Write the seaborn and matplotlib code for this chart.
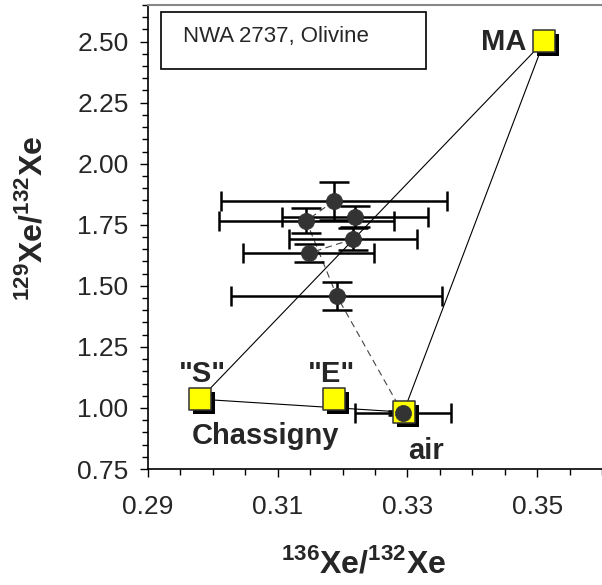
import numpy as np
import pandas as pd
import seaborn as sns
import matplotlib
matplotlib.use('Agg')
import matplotlib.pyplot as plt
import matplotlib.transforms as mtransforms
from matplotlib.patches import Rectangle
from matplotlib.ticker import FixedLocator, MultipleLocator, FormatStrFormatter

# measured olivine steps (136Xe/132Xe, 129Xe/132Xe)
pt_x = [0.3187, 0.3144, 0.3219, 0.3216, 0.3148, 0.3191, 0.3293]
pt_y = [1.848, 1.766, 1.782, 1.691, 1.634, 1.459, 0.978]
pt_xerr = [0.0174, 0.0135, 0.0112, 0.0099, 0.0101, 0.0163, 0.0074]
pt_yerr = [0.078, 0.051, 0.043, 0.045, 0.037, 0.057, 0.008]

# end-members
em_names = ['"S"', '"E"', 'air', 'MA']
em_x = [0.298, 0.3187, 0.3294, 0.3511]
em_y = [1.036, 1.036, 0.983, 2.503]

# mixing triangle and dashed step paths
tri = ['"S"', 'MA', 'air', '"S"']
dash_paths = [[0, 1, 5, 6], [2, 3, 4]]

xticks = [0.29, 0.31, 0.33, 0.35]
yticks = [0.75, 1.00, 1.25, 1.50, 1.75, 2.00, 2.25, 2.50]

pts = pd.DataFrame({'x': pt_x, 'y': pt_y})
em = pd.DataFrame({'name': em_names, 'x': em_x, 'y': em_y}).set_index('name')

sns.set_style('ticks')
plt.rcParams['font.family'] = ['Liberation Sans', 'DejaVu Sans']
plt.rcParams['mathtext.fontset'] = 'custom'
plt.rcParams['mathtext.rm'] = 'Liberation Sans:bold'
plt.rcParams['mathtext.bf'] = 'Liberation Sans:bold'

fig = plt.figure(figsize=(6.02, 5.85), dpi=100)
ax = fig.add_axes([148 / 602, 1 - 469 / 585, 454 / 602, 464 / 585])

# mixing lines
ax.plot(em.loc[tri, 'x'], em.loc[tri, 'y'], color='black', lw=0.8, zorder=1)
for p in dash_paths:
    ax.plot([pt_x[i] for i in p], [pt_y[i] for i in p], color='#444444',
            lw=0.8, ls=(0, (6, 4)), zorder=1)

# error bars
ax.errorbar(pt_x, pt_y, xerr=pt_xerr, fmt='none', ecolor='black',
            elinewidth=1.8, capsize=7, capthick=1.8, zorder=2)
ax.errorbar(pt_x, pt_y, yerr=pt_yerr, fmt='none', ecolor='black',
            elinewidth=1.8, capsize=11, capthick=1.8, zorder=2)

# end-member squares with shadow
shadow = mtransforms.offset_copy(ax.transData, fig=fig, x=3, y=-3, units='points')
ax.scatter(em['x'], em['y'], marker='s', s=272, color='black', lw=0,
           transform=shadow, zorder=3)
sns.scatterplot(data=em, x='x', y='y', marker='s', s=272, color='#ffff00',
                edgecolor='#333333', linewidth=1.1, ax=ax, zorder=4)

# data points
sns.scatterplot(data=pts, x='x', y='y', marker='o', s=135, color='#333333',
                edgecolor='#333333', linewidth=0.5, ax=ax, zorder=5)

lab = dict(fontsize=21, fontweight='bold', textcoords='offset points')
ax.annotate('MA', (em.loc['MA', 'x'], em.loc['MA', 'y']), xytext=(-13, -1),
            ha='right', va='center', **lab)
ax.annotate('"S"', (em.loc['"S"', 'x'], em.loc['"S"', 'y']), xytext=(2, 12),
            ha='center', va='baseline', **lab)
ax.annotate('"E"', (em.loc['"E"', 'x'], em.loc['"E"', 'y']), xytext=(-2, 12),
            ha='center', va='baseline', **lab)
ax.annotate('Chassigny', (em.loc['"S"', 'x'], em.loc['"S"', 'y']), xytext=(-6, -32),
            ha='left', va='baseline', **lab)
ax.annotate('air', (em.loc['air', 'x'], em.loc['air', 'y']), xytext=(16, -34),
            ha='center', va='baseline', **lab)

# sample box
ax.add_patch(Rectangle((0.0286, 0.8614), 0.5834, 0.1242, transform=ax.transAxes,
                       fill=False, edgecolor='black', lw=1.2, zorder=6))
ax.text(0.0764, 0.9317, 'NWA 2737, Olivine', transform=ax.transAxes,
        fontsize=16, ha='left', va='center', zorder=6)

ax.set_xlim(0.29, 0.36)
ax.set_ylim(0.75, 2.65)
ax.xaxis.set_major_locator(FixedLocator(xticks))
ax.xaxis.set_minor_locator(MultipleLocator(0.005))
ax.yaxis.set_major_locator(FixedLocator(yticks))
ax.yaxis.set_minor_locator(MultipleLocator(0.05))
ax.xaxis.set_major_formatter(FormatStrFormatter('%.2f'))
ax.yaxis.set_major_formatter(FormatStrFormatter('%.2f'))
ax.tick_params(which='major', length=6, width=1, labelsize=19, color='black')
ax.tick_params(which='minor', length=4, width=1, color='black')
ax.tick_params(axis='x', which='major', pad=13)
ax.tick_params(axis='y', which='major', pad=8)

for s in ['left', 'bottom']:
    ax.spines[s].set_color('black')
    ax.spines[s].set_linewidth(1.2)
ax.spines['top'].set_color('#888888')
ax.spines['top'].set_linewidth(1.5)
ax.spines['right'].set_visible(False)
ax.grid(False)

ax.set_xlabel(r'$^{136}$Xe/$^{132}$Xe', fontsize=23, fontweight='bold', va='top')
ax.set_ylabel(r'$^{129}$Xe/$^{132}$Xe', fontsize=23, fontweight='bold')
ax.xaxis.set_label_coords(0.476, -0.17)
ax.yaxis.set_label_coords(-0.22, 0.54)

fig.savefig('out.png', dpi=100)
